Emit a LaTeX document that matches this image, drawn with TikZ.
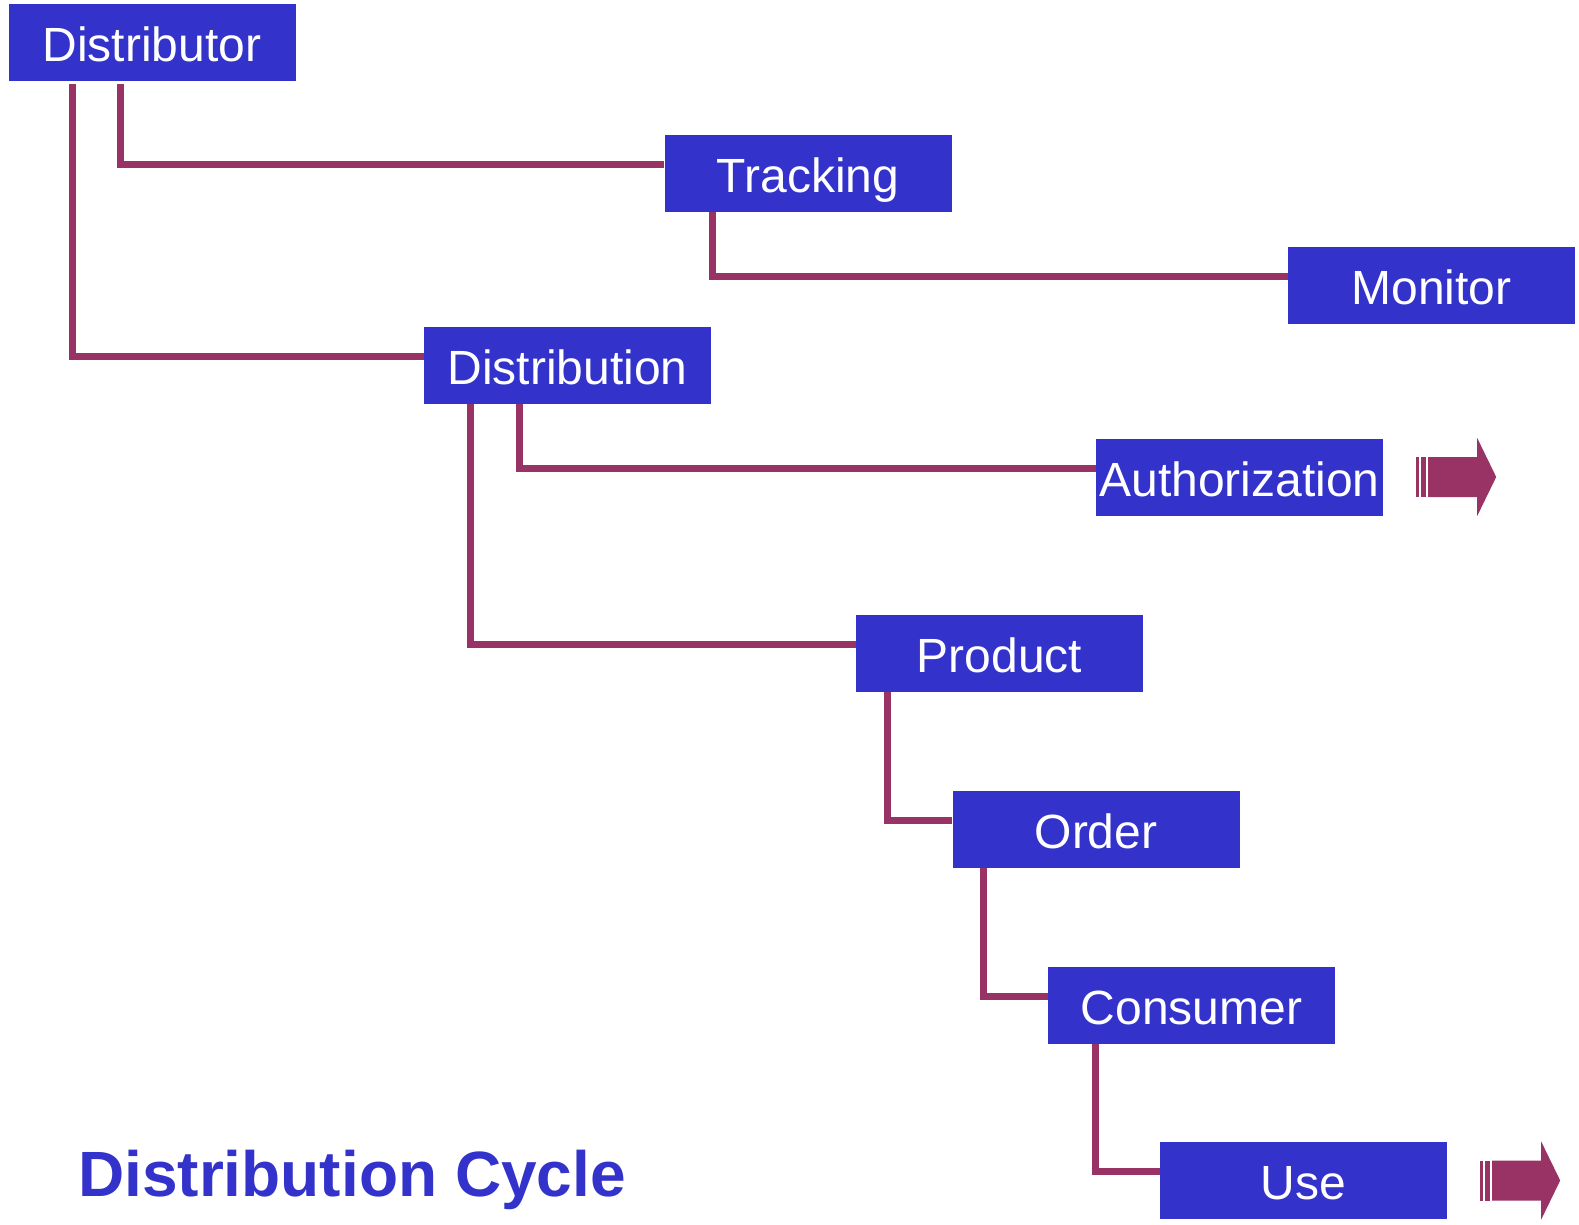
\documentclass[tikz,border=0pt]{standalone}
\usepackage{fontspec}
\setmainfont{Liberation Sans}
\definecolor{boxblue}{HTML}{3333CC}
\definecolor{linered}{HTML}{993366}
\tikzset{
  box/.style={fill=boxblue, draw=none, minimum width=287pt, minimum height=77pt, inner sep=0pt,
    text=white, font=\fontsize{48}{52}\selectfont, text height=38pt, text depth=0pt, align=center},
  conn/.style={draw=linered, line width=7pt, line join=miter},
  fatarrow/.pic={
    \fill[linered] (33,-20) rectangle (36,20);
    \fill[linered] (38,-20) rectangle (43,20);
    \fill[linered] (45,-20) -- (94,-20) -- (94,-39) -- (113,0) -- (94,39) -- (94,20) -- (45,20) -- cycle;
  }
}
\begin{document}
\begin{tikzpicture}[x=1pt,y=-1pt]
\useasboundingbox (0,0) rectangle (1579,1225);
\node[box] (dtor) at (152,42.5) {Distributor};
\node[box] (track) at (808,173.5) {Tracking};
\node[box] (mon) at (1431.5,285) {Monitor};
\node[box] (dist) at (567.5,365) {Distribution};
\node[box] (auth) at (1239.5,477) {Authorization};
\node[box] (prod) at (999.5,653) {Product};
\node[box] (ord) at (1096,829) {Order};
\node[box] (cons) at (1191.5,1005) {Consumer};
\node[box] (use) at (1303.5,1180.5) {Use};
\node[anchor=base west, inner sep=0pt, text=boxblue, font=\fontsize{64}{70}\selectfont\bfseries] (title) at (78,1196) {Distribution Cycle};

\draw[conn] ([xshift=112pt,yshift=-3pt]dtor.south west) |- ([yshift=-30pt]track.north west);
\draw[conn] ([xshift=64pt,yshift=-3pt]dtor.south west) |- ([yshift=-30pt]dist.north west);
\draw[conn] ([xshift=48pt]track.south west) |- ([yshift=-30pt]mon.north west);
\draw[conn] ([xshift=96pt]dist.south west) |- ([yshift=-30pt]auth.north west);
\draw[conn] ([xshift=47pt]dist.south west) |- ([yshift=-30pt]prod.north west);
\draw[conn] ([xshift=32pt]prod.south west) |- ([yshift=-30pt]ord.north west);
\draw[conn] ([xshift=31pt]ord.south west) |- ([yshift=-30pt]cons.north west);
\draw[conn] ([xshift=48pt]cons.south west) |- ([yshift=-30pt]use.north west);

\pic at (auth.east) {fatarrow};
\pic at (use.east) {fatarrow};
\end{tikzpicture}
\end{document}
